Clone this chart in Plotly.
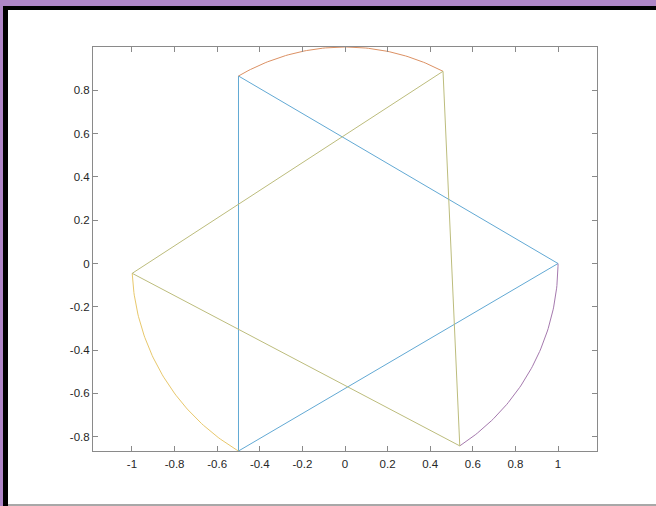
import numpy as np
import plotly.graph_objects as go

# ---- data (angles in degrees of points on the unit circle) ----
tri_a_angles = [0, 120, 240, 0]            # blue triangle vertices
tri_b_angles = [62.6, 182.6, 302.6, 62.6]  # olive triangle vertices
arc_top = [62.6, 120]                      # orange arc
arc_left = [182.6, 240]                    # yellow arc
arc_right = [-57.4, 0]                     # purple arc

x_tickvals = [-1, -0.8, -0.6, -0.4, -0.2, 0, 0.2, 0.4, 0.6, 0.8, 1]
x_ticktext = ["-1", "-0.8", "-0.6", "-0.4", "-0.2", "0", "0.2", "0.4", "0.6", "0.8", "1"]
y_tickvals = [-0.8, -0.6, -0.4, -0.2, 0, 0.2, 0.4, 0.6, 0.8]
y_ticktext = ["-0.8", "-0.6", "-0.4", "-0.2", "0", "0.2", "0.4", "0.6", "0.8"]

colors = {
    "blue": "#62a9d4",
    "orange": "#dc9164",
    "yellow": "#e8c86c",
    "purple": "#a579ae",
    "olive": "#bcbc7c",
}


def poly(angles):
    a = np.deg2rad(np.array(angles, dtype=float))
    return np.cos(a), np.sin(a)


def arc(a0, a1, n=80):
    a = np.deg2rad(np.linspace(a0, a1, n))
    return np.cos(a), np.sin(a)


fig = go.Figure()


def add(xy, color):
    fig.add_trace(go.Scatter(x=xy[0], y=xy[1], mode="lines",
                             line=dict(color=color, width=1),
                             hoverinfo="skip", showlegend=False))


add(poly(tri_a_angles), colors["blue"])
add(arc(*arc_top), colors["orange"])
add(arc(*arc_left), colors["yellow"])
add(arc(*arc_right), colors["purple"])
add(poly(tri_b_angles), colors["olive"])

W, H = 656, 506
L, R, T, B = 93, 59, 47, 55
pw, ph = W - L - R, H - T - B


def px(x):
    return (x - L) / pw


def py(y):
    return (H - y - B) / ph


shapes = []


def rect(x0, y0, x1, y1, color):
    shapes.append(dict(type="rect", xref="paper", yref="paper",
                       x0=px(x0), x1=px(x1), y0=py(y1), y1=py(y0),
                       fillcolor=color, line=dict(width=0), layer="above"))


rect(0, 0, W, 6, "#af86c7")
rect(0, 0, 3, H, "#af86c7")
rect(3, 6, W, 10, "#000000")
rect(3, 6, 8, H, "#000000")
rect(8, 504, W, H, "#a8a8a8")

axis_common = dict(showgrid=False, zeroline=False, showline=True, mirror="ticks",
                   linecolor="#8a8a8a", linewidth=1, ticks="inside", ticklen=5,
                   tickcolor="#8a8a8a", tickwidth=1,
                   tickfont=dict(family="Liberation Sans, Arial, sans-serif", size=11.5, color="#262626"))

fig.update_layout(
    width=W, height=H,
    margin=dict(l=L, r=R, t=T, b=B, pad=0),
    paper_bgcolor="white", plot_bgcolor="white",
    shapes=shapes,
    xaxis=dict(range=[-1.183, 1.183], tickvals=x_tickvals, ticktext=x_ticktext,
               ticklabelstandoff=2, **axis_common),
    yaxis=dict(range=[-0.866, 1.0], tickvals=y_tickvals, ticktext=y_ticktext, **axis_common),
)

fig.write_html("out.html", config={"displayModeBar": False},
               post_script="document.body.style.margin='0';document.body.style.overflow='hidden';")
